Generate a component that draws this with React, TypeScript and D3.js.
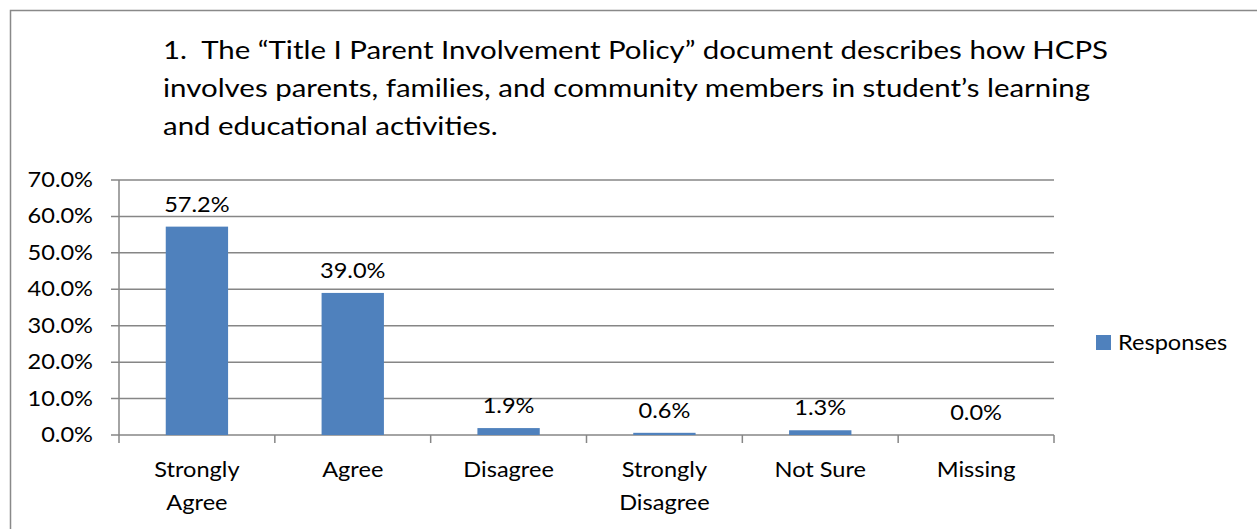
import React from "react";
import * as d3 from "d3";

const categories: string[][] = [
  ["Strongly", "Agree"],
  ["Agree"],
  ["Disagree"],
  ["Strongly", "Disagree"],
  ["Not Sure"],
  ["Missing"],
];
const values: number[] = [57.2, 39.0, 1.9, 0.6, 1.3, 0.0];
const yTicks: number[] = [0, 10, 20, 30, 40, 50, 60, 70];
const titleLines: string[] = [
  "1.  The \u201CTitle I Parent Involvement Policy\u201D document describes how HCPS",
  "involves parents, families, and community members in student\u2019s learning",
  "and educational activities.",
];
const seriesName = "Responses";

const W = 1257;
const H = 529;
const FONT = "Lato, 'Open Sans', sans-serif";
const BAR = "#4F81BD";
const GRID = "#868686";
const SX = 1.15;

function T(props: {
  x: number;
  y: number;
  size: number;
  anchor?: "start" | "middle" | "end";
  dy?: string;
  children: React.ReactNode;
}) {
  return (
    <text
      transform={`translate(${props.x},${props.y}) scale(${SX},1)`}
      textAnchor={props.anchor || "start"}
      dy={props.dy}
      fontSize={props.size}
      fill="#000"
      style={{ whiteSpace: "pre" }}
    >
      {props.children}
    </text>
  );
}

export default function App() {
  const left = 119;
  const right = 1054;
  const top = 180;
  const bottom = 435;

  const x = d3
    .scaleBand<number>()
    .domain(d3.range(values.length))
    .range([left, right])
    .paddingInner(0.6)
    .paddingOuter(0.3);
  const xCat = d3
    .scaleBand<number>()
    .domain(d3.range(values.length))
    .range([left, right]);
  const y = d3.scaleLinear().domain([0, 70]).range([bottom, top]);

  const boundaries = d3
    .range(values.length + 1)
    .map((i) => (i < values.length ? (xCat(i) as number) : right));
  const cx = (i: number) => (xCat(i) as number) + xCat.bandwidth() / 2;

  return (
    <svg
      width={W}
      height={H}
      style={{ position: "absolute", left: 0, top: 0, background: "#fff" }}
      fontFamily={FONT}
    >
      <rect x={10.5} y={10.5} width={1300} height={600} fill="#fff" stroke="#898989" strokeWidth={1.5} />
      {titleLines.map((t, i) => (
        <T key={i} x={163} y={59 + i * 38} size={25.6}>
          {t}
        </T>
      ))}
      {yTicks.map((t) => (
        <line key={t} x1={left - 8} x2={right} y1={y(t)} y2={y(t)} stroke={GRID} strokeWidth={1.5} />
      ))}
      <line x1={left} x2={left} y1={top} y2={bottom} stroke={GRID} strokeWidth={1.5} />
      {yTicks.map((t) => (
        <T key={"l" + t} x={93} y={y(t) + 7} anchor="end" size={20.5}>
          {t.toFixed(1) + "%"}
        </T>
      ))}
      {boundaries.map((bx, i) => (
        <line key={"t" + i} x1={bx} x2={bx} y1={bottom} y2={bottom + 8} stroke={GRID} strokeWidth={1.5} />
      ))}
      {values.map((v, i) => (
        <rect
          key={"b" + i}
          x={x(i)}
          y={y(v)}
          width={x.bandwidth()}
          height={bottom - y(v)}
          fill={BAR}
        />
      ))}
      {values.map((v, i) => (
        <T key={"d" + i} x={cx(i)} y={y(v) - 15} anchor="middle" size={20.5}>
          {v.toFixed(1) + "%"}
        </T>
      ))}
      {categories.map((lines, i) =>
        lines.map((ln, j) => (
          <T key={"c" + i + "-" + j} x={cx(i)} y={477 + j * 33} anchor="middle" size={20.5}>
            {ln}
          </T>
        ))
      )}
      <rect x={1096} y={335} width={15} height={15} fill={BAR} />
      <T x={1118} y={350} size={20.5}>
        {seriesName}
      </T>
    </svg>
  );
}
